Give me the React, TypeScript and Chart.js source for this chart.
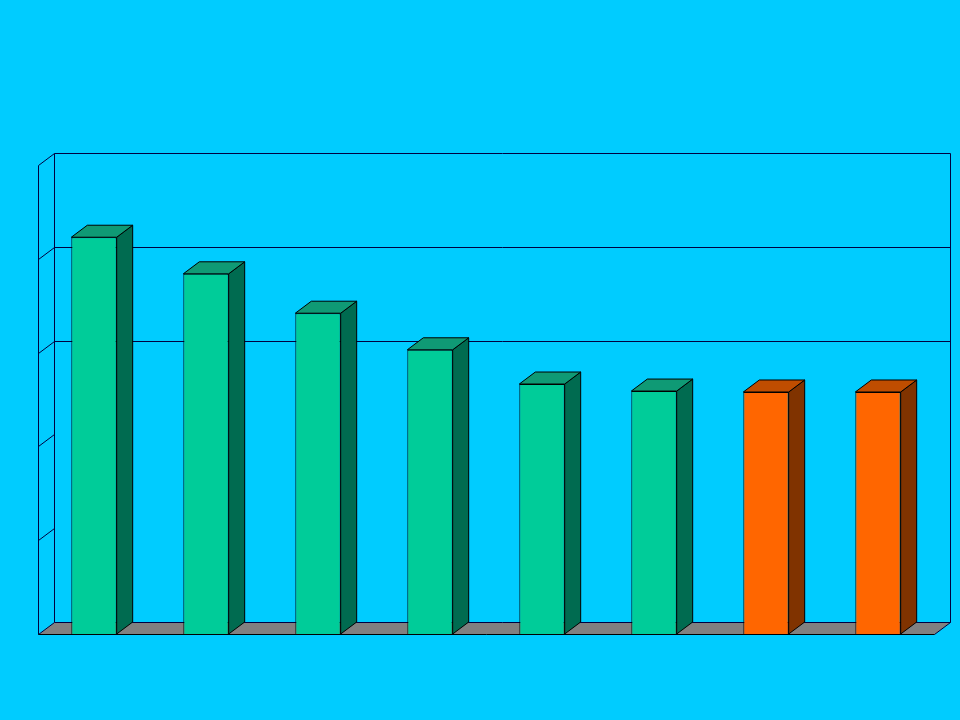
import React, { useEffect, useRef } from "react";
import { Chart, registerables } from "chart.js";

Chart.register(...registerables);

const categories = ["1", "2", "3", "4", "5", "6", "7", "8"];
const values = [84.6, 76.8, 68.4, 60.6, 53.3, 51.8, 51.6, 51.6];
const faceColors = ["#00CC99", "#00CC99", "#00CC99", "#00CC99", "#00CC99", "#00CC99", "#FF6600", "#FF6600"];
const sideColors = ["#006B50", "#006B50", "#006B50", "#006B50", "#006B50", "#006B50", "#803300", "#803300"];
const topColors = ["#0F9A75", "#0F9A75", "#0F9A75", "#0F9A75", "#0F9A75", "#0F9A75", "#BF4D00", "#BF4D00"];
const wallTicks = [0, 20, 40, 60, 80, 100];
const backGridValues = [60, 80, 100];

const DX = 16;
const DY = 12;
const AXIS = "#000040";
const EDGE = "#000000";
const FLOOR = "#808080";

const poly = (ctx: CanvasRenderingContext2D, pts: number[][], fill: string | null, stroke: string | null) => {
  ctx.beginPath();
  pts.forEach((p, i) => (i ? ctx.lineTo(p[0], p[1]) : ctx.moveTo(p[0], p[1])));
  ctx.closePath();
  if (fill) {
    ctx.fillStyle = fill;
    ctx.fill();
  }
  if (stroke) {
    ctx.strokeStyle = stroke;
    ctx.stroke();
  }
};

const line = (ctx: CanvasRenderingContext2D, x1: number, y1: number, x2: number, y2: number, c: string) => {
  ctx.beginPath();
  ctx.moveTo(x1, y1);
  ctx.lineTo(x2, y2);
  ctx.strokeStyle = c;
  ctx.stroke();
};

const box3d = {
  id: "box3d",
  beforeDatasetsDraw(chart: any) {
    const { ctx, chartArea } = chart;
    const y = chart.scales.y;
    const L = chartArea.left + 0.5;
    const R = chartArea.right + 0.5;
    const B = Math.round(y.getPixelForValue(0)) + 0.5;
    ctx.save();
    ctx.lineWidth = 1;
    // floor
    poly(ctx, [[L, B], [R, B], [R + DX, B - DY], [L + DX, B - DY]], FLOOR, null);
    line(ctx, L, B, L + DX, B - DY, AXIS);
    line(ctx, R, B, R + DX, B - DY, AXIS);
    line(ctx, L + DX, B - DY, R + DX, B - DY, AXIS);
    // walls
    const top = Math.round(y.getPixelForValue(100)) + 0.5;
    line(ctx, L, B, L, top, AXIS);
    line(ctx, L + DX, B - DY, L + DX, top - DY, AXIS);
    line(ctx, R + DX, B - DY, R + DX, top - DY, AXIS);
    wallTicks.forEach((v) => {
      const p = Math.round(y.getPixelForValue(v)) + 0.5;
      if (v > 0) line(ctx, L, p, L + DX, p - DY, AXIS);
    });
    backGridValues.forEach((v) => {
      const p = Math.round(y.getPixelForValue(v)) + 0.5 - DY;
      line(ctx, L + DX, p, R + DX, p, AXIS);
    });
    // bar sides and tops
    chart.getDatasetMeta(0).data.forEach((bar: any, i: number) => {
      const hw = bar.width / 2;
      const x0 = bar.x - hw;
      const x1 = bar.x + hw;
      const t = bar.y;
      const b = bar.base;
      poly(ctx, [[x1, t], [x1 + DX, t - DY], [x1 + DX, b - DY], [x1, b]], sideColors[i], EDGE);
      poly(ctx, [[x0, t], [x0 + DX, t - DY], [x1 + DX, t - DY], [x1, t]], topColors[i], EDGE);
    });
    ctx.restore();
  },
  afterDraw(chart: any) {
    const { ctx, chartArea } = chart;
    const B = Math.round(chart.scales.y.getPixelForValue(0)) + 0.5;
    ctx.save();
    ctx.lineWidth = 1;
    line(ctx, chartArea.left + 0.5, B, chartArea.right + 0.5, B, EDGE);
    ctx.restore();
  },
};

export default function App() {
  const ref = useRef<HTMLCanvasElement>(null);
  useEffect(() => {
    const chart = new Chart(ref.current as HTMLCanvasElement, {
      type: "bar",
      data: {
        labels: categories,
        datasets: [
          {
            data: values,
            backgroundColor: faceColors,
            borderColor: EDGE,
            borderWidth: 1,
            barPercentage: 0.405,
            categoryPercentage: 1,
          },
        ],
      },
      options: {
        animation: false,
        responsive: false,
        layout: { padding: { left: 38, right: 26, top: 165, bottom: 86 } },
        plugins: { legend: { display: false }, title: { display: false }, tooltip: { enabled: false } },
        scales: {
          x: { display: false, grid: { display: false } },
          y: { display: false, min: 0, max: 100, grid: { display: false } },
        },
      },
      plugins: [box3d],
    } as any);
    return () => chart.destroy();
  }, []);
  return (
    <div style={{ position: "fixed", left: 0, top: 0, width: 960, height: 720, background: "#00CCFF" }}>
      <canvas ref={ref} width={960} height={720} style={{ display: "block" }} />
    </div>
  );
}
